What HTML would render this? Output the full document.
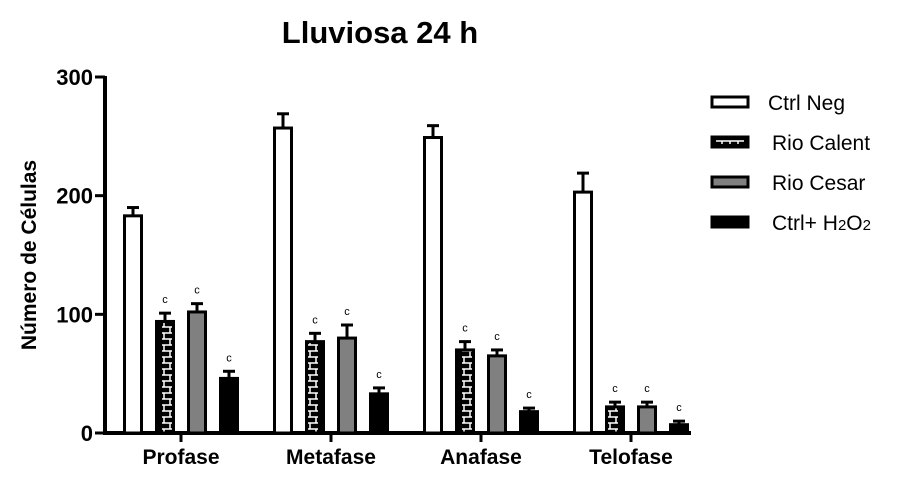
<!DOCTYPE html>
<html><head><meta charset="utf-8"><style>
body{margin:0;background:#fff;width:900px;height:492px;overflow:hidden}
text{font-family:"Liberation Sans",Arial,sans-serif}
</style></head><body>
<svg width="900" height="492">
<defs>
<pattern id="brick" width="20" height="12" patternUnits="userSpaceOnUse">
<rect width="20" height="12" fill="#000"/>
<path d="M2 3H18M2 9H18M10 3V9M4 0V3M16 0V3M4 9V12M16 9V12" stroke="#fff" stroke-width="1.5"/>
</pattern>
</defs>
<text x="380" y="43" text-anchor="middle" font-size="31" font-weight="bold">Lluviosa 24 h</text>
<text transform="translate(36,255) rotate(-90)" text-anchor="middle" font-size="21" font-weight="bold">Número de Células</text>
<g id="axes"></g><g id="bars"></g><g id="legend"></g>
</svg>
<script>
const categories=["Profase","Metafase","Anafase","Telofase"];
const seriesNames=["Ctrl Neg","Rio Calent","Rio Cesar","Ctrl+ H2O2"];
const ctrlNeg=[183,257,249,203];
const ctrlNegErr=[7,12,10,16];
const rioCalent=[94,77,70,22];
const rioCalentErr=[7,7,7,4];
const rioCesar=[102,80,65,22];
const rioCesarErr=[7,11,5,4];
const ctrlH2O2=[46,33,18,7];
const ctrlH2O2Err=[6,5,3,3];
const yTicks=[0,100,200,300];
const sigLabels=[null,"c","c","c"];

const NS="http://www.w3.org/2000/svg";
const x0=105,y0=433,yTop=77,yMax=300;
const y=v=>y0-(v/yMax)*(y0-yTop);
const catX=i=>181+i*150;
function mk(t,a,p){const e=document.createElementNS(NS,t);for(const k in a)e.setAttribute(k,a[k]);p.appendChild(e);return e;}
const axes=document.getElementById('axes'),bars=document.getElementById('bars'),leg=document.getElementById('legend');
const ya=mk('line',{x1:x0,y1:yTop-1,x2:x0,y2:y0+2,stroke:'#000','stroke-width':4},axes);


const xa=mk('line',{x1:x0-2,y1:y0,x2:691,y2:y0,stroke:'#000','stroke-width':4},axes);


yTicks.forEach(v=>{
 mk('line',{x1:x0-10,y1:y(v),x2:x0,y2:y(v),stroke:'#000','stroke-width':3},axes);
 const t=mk('text',{x:x0-12,y:y(v)+8,'text-anchor':'end','font-size':22,'font-weight':'bold'},axes);t.textContent=v;
 
 
});
categories.forEach((c,i)=>{
 mk('line',{x1:catX(i),y1:y0,x2:catX(i),y2:y0+9,stroke:'#000','stroke-width':3},axes);
 const t=mk('text',{x:catX(i),y:y0+31,'text-anchor':'middle','font-size':21,'font-weight':'bold'},axes);t.textContent=c;
 
 
});
const series=[ctrlNeg,rioCalent,rioCesar,ctrlH2O2],errs=[ctrlNegErr,rioCalentErr,rioCesarErr,ctrlH2O2Err];
const fills=['#fff','url(#brick)','#808080','#000'];
categories.forEach((c,i)=>{
 series.forEach((s,j)=>{
  const bx=catX(i)-58+j*32, v=s[i], e=errs[j][i];
  const cx=bx+10;
  mk('line',{x1:cx,y1:y(v),x2:cx,y2:y(v+e),stroke:'#000','stroke-width':3},bars);
  mk('line',{x1:cx-6,y1:y(v+e),x2:cx+6,y2:y(v+e),stroke:'#000','stroke-width':3},bars);
  const r=mk('rect',{x:bx+1.5,y:y(v),width:17,height:y0-y(v),fill:fills[j],stroke:'#000','stroke-width':3},bars);
  
  
  if(sigLabels[j]){const t=mk('text',{x:cx,y:y(v+e)-10,'text-anchor':'middle','font-size':11},bars);t.textContent=sigLabels[j];
   
   }
 });
});
seriesNames.forEach((n,j)=>{
 const ly=102+j*40;
 const r=mk('rect',{x:712,y:ly-5,width:36,height:10,fill:j==1?'#000':fills[j],stroke:'#000','stroke-width':3},leg);
 
 
 if(j==1)mk('path',{d:`M716 ${ly-1}H744M722 ${ly-1}V${ly+2}M730 ${ly-1}V${ly+2}M738 ${ly-1}V${ly+2}`,stroke:'#fff','stroke-width':1.5,fill:'none'},leg);
 const t=mk('text',{x:j==0?768:772,y:ly+8,'font-size':21},leg);
 
 
 if(j==3){t.innerHTML='Ctrl+ H<tspan font-size="15">2</tspan>O<tspan font-size="15">2</tspan>';}
 else t.textContent=n;
});
</script>
</body></html>
